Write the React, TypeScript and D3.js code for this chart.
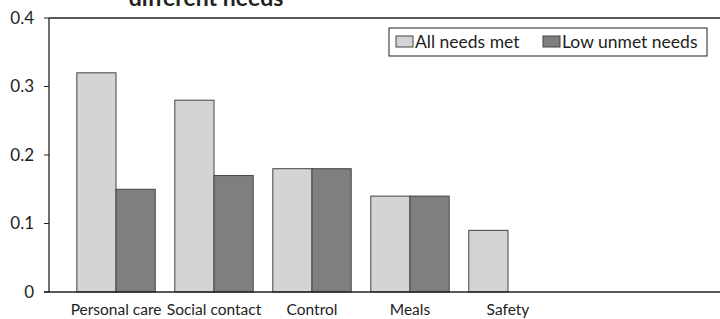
import React, { useEffect, useRef } from 'react';
import * as d3 from 'd3';

const categories = ['Personal care', 'Social contact', 'Control', 'Meals', 'Safety'];
const seriesNames = ['All needs met', 'Low unmet needs'];
const allNeedsMet = [0.32, 0.28, 0.18, 0.14, 0.09];
const lowUnmetNeeds: (number | null)[] = [0.15, 0.17, 0.18, 0.14, null];
const yTicks = [0, 0.1, 0.2, 0.3, 0.4];
const colors = ['#d4d4d6', '#7f7f82'];

function App() {
  const svgRef = useRef<SVGSVGElement>(null);
  const width = 720;
  const height = 319;

  useEffect(() => {
    if (!svgRef.current) return;
    const svg = d3.select(svgRef.current);
    svg.selectAll('*').remove();

    const font = 'Lato, "Open Sans", sans-serif';
    const left = 49;
    const top = 18;
    const bottom = 292;

    const x = d3.scaleBand<string>()
      .domain(categories)
      .range([left, 575])
      .paddingInner(0.2)
      .paddingOuter(0.284);
    const xSub = d3.scaleBand<string>()
      .domain(seriesNames)
      .range([0, x.bandwidth()]);
    const y = d3.scaleLinear().domain([0, 0.4]).range([bottom, top]);

    // title (cropped at the top, as in the source)
    svg.append('text')
      .attr('x', 206)
      .attr('y', 6)
      .attr('text-anchor', 'middle')
      .style('font-family', font)
      .style('font-weight', 'bold')
      .style('font-size', '23px')
      .style('fill', '#222')
      .text('different needs');

    // top frame line
    svg.append('line')
      .attr('x1', left).attr('x2', width)
      .attr('y1', y(0.4)).attr('y2', y(0.4))
      .attr('stroke', '#222').attr('stroke-width', 1.3);

    // bars
    const rows = categories.map((c, i) => ({ c, vals: [allNeedsMet[i], lowUnmetNeeds[i]] }));
    const g = svg.append('g');
    rows.forEach(r => {
      r.vals.forEach((v, j) => {
        if (v == null) return;
        g.append('rect')
          .attr('x', (x(r.c) as number) + (xSub(seriesNames[j]) as number))
          .attr('y', y(v))
          .attr('width', xSub.bandwidth())
          .attr('height', y(0) - y(v))
          .attr('fill', colors[j])
          .attr('stroke', '#444')
          .attr('stroke-width', 1);
      });
    });

    // y axis
    svg.append('line')
      .attr('x1', left).attr('x2', left)
      .attr('y1', top).attr('y2', bottom)
      .attr('stroke', '#222').attr('stroke-width', 1.3);
    yTicks.forEach(t => {
      svg.append('line')
        .attr('x1', left - 5).attr('x2', left)
        .attr('y1', y(t)).attr('y2', y(t))
        .attr('stroke', '#222');
      svg.append('text')
        .attr('x', 34)
        .attr('y', y(t))
        .attr('dy', '0.35em')
        .attr('text-anchor', 'end')
        .style('font-family', font)
        .style('font-size', '17px')
        .style('fill', '#222')
        .text(t === 0 ? '0' : d3.format('.1f')(t));
    });

    // x axis
    svg.append('line')
      .attr('x1', left - 5).attr('x2', width)
      .attr('y1', y(0)).attr('y2', y(0))
      .attr('stroke', '#222').attr('stroke-width', 1.3);
    categories.forEach(c => {
      svg.append('text')
        .attr('x', (x(c) as number) + x.bandwidth() / 2)
        .attr('y', 315)
        .attr('text-anchor', 'middle')
        .style('font-family', font)
        .style('font-size', '15.5px')
        .style('fill', '#222')
        .text(c);
    });

    // legend
    const lg = svg.append('g');
    lg.append('rect')
      .attr('x', 389).attr('y', 28)
      .attr('width', 318).attr('height', 28)
      .attr('fill', 'white')
      .attr('stroke', '#222').attr('stroke-width', 1);
    const legendX = [396, 543];
    seriesNames.forEach((s, j) => {
      lg.append('rect')
        .attr('x', legendX[j]).attr('y', 36)
        .attr('width', 17).attr('height', 11)
        .attr('fill', colors[j])
        .attr('stroke', '#444');
      lg.append('text')
        .attr('x', legendX[j] + 19)
        .attr('y', 42)
        .attr('dy', '0.35em')
        .style('font-family', font)
        .style('font-size', '17.5px')
        .style('fill', '#222')
        .text(s);
    });
  }, []);

  return (
    <svg ref={svgRef} width={width} height={height}
      style={{ position: 'absolute', left: 0, top: 0, background: 'white' }} />
  );
}

export default App;
